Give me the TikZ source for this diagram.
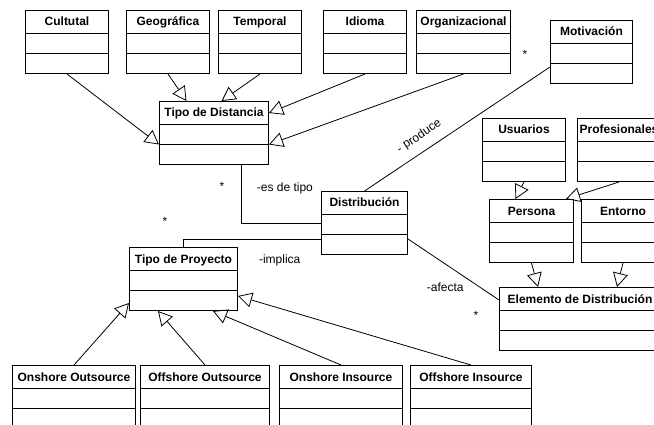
\documentclass[tikz,border=0pt]{standalone}
\usepackage{fontspec}
\setmainfont{Liberation Sans}
\usetikzlibrary{arrows.meta,shapes.multipart}

\newcommand{\titlestrut}{\rule[-7pt]{0pt}{22pt}}

\begin{document}
\begin{tikzpicture}[
  x=1pt, y=-1pt,
  font=\fontsize{12}{14}\selectfont,
  umlclass/.style={draw,line width=1pt,rectangle split,rectangle split parts=3,
    rectangle split empty part height=19pt,rectangle split empty part depth=0pt,
    inner xsep=2pt,inner ysep=0pt,anchor=north west,
    font=\fontsize{12}{14}\selectfont\bfseries},
  gen/.style={-{Triangle[open,length=14pt,width=15pt]},line width=.8pt},
  assoc/.style={line width=.8pt},
  lbl/.style={inner sep=1pt},
  mult/.style={inner sep=0pt}]
  \clip (0,0) rectangle (654,425);

% Classes
  \node[umlclass,minimum width=83pt]  (cultutal)   at (25,10)   {\titlestrut Cultutal};
  \node[umlclass,minimum width=83pt]  (geografica) at (126,10)  {\titlestrut Geográfica};
  \node[umlclass,minimum width=83pt]  (temporal)   at (218,10)  {\titlestrut Temporal};
  \node[umlclass,minimum width=83pt]  (idioma)     at (323,10)  {\titlestrut Idioma};
  \node[umlclass,minimum width=94pt]  (organiz)    at (416,10)  {\titlestrut Organizacional};
  \node[umlclass,minimum width=82pt]  (motiv)      at (550,20)  {\titlestrut Motivación};
  \node[umlclass,minimum width=109pt] (tipodist)   at (159,101) {\titlestrut Tipo de Distancia};
  \node[umlclass,minimum width=86pt]  (distrib)    at (321,191) {\titlestrut Distribución};
  \node[umlclass,minimum width=108pt] (tipoproy)   at (129,247) {\titlestrut Tipo de Proyecto};
  \node[umlclass,minimum width=83pt]  (usuarios)   at (482,118) {\titlestrut Usuarios};
  \node[umlclass,minimum width=83pt]  (profes)     at (577,118) {\titlestrut Profesionales};
  \node[umlclass,minimum width=84pt]  (persona)    at (489,199) {\titlestrut Persona};
  \node[umlclass,minimum width=83pt]  (entorno)    at (581,199) {\titlestrut Entorno};
  \node[umlclass,minimum width=161pt] (elemento)   at (499,287) {\titlestrut Elemento de Distribución};
  \node[umlclass,minimum width=123pt] (onout)      at (12,365)  {\titlestrut Onshore Outsource};
  \node[umlclass,minimum width=129pt] (offout)     at (140,365) {\titlestrut Offshore Outsource};
  \node[umlclass,minimum width=123pt] (onin)       at (279,365) {\titlestrut Onshore Insource};
  \node[umlclass,minimum width=121pt] (offin)      at (410,365) {\titlestrut Offshore Insource};

% Multiplicities
  \node[mult] (multmotiv)   at (525,54)  {*};
  \node[mult] (multdist)    at (222,186) {*};
  \node[mult] (multproy)    at (165,221) {*};
  \node[mult] (multelem)    at (476,315) {*};

% Generalizations
  \draw[gen] (cultutal.south)   -- (tipodist.two split west);
  \draw[gen] (geografica.south) -- ([xshift=-27.5pt]tipodist.north);
  \draw[gen] (temporal.south)   -- ([xshift=7.5pt]tipodist.north);
  \draw[gen] (idioma.south)     -- ([yshift=-12pt]tipodist.north east);
  \draw[gen] (organiz.south)    -- (tipodist.two split east);
  \draw[gen] (usuarios.south)   -- ([xshift=-16pt]persona.north);
  \draw[gen] (profes.south)     -- ([xshift=-8pt]persona.north east);
  \draw[gen] (persona.south)    -- ([xshift=39pt]elemento.north west);
  \draw[gen] (entorno.south)    -- ([xshift=118pt]elemento.north west);
  \draw[gen] (onout.north)      -- ([yshift=8pt]tipoproy.south west);
  \draw[gen] (offout.north)     -- ([xshift=29pt]tipoproy.south west);
  \draw[gen] (onin.north)       -- ([xshift=-25pt]tipoproy.south east);
  \draw[gen] (offin.north)      -- ([yshift=15pt]tipoproy.south east);

% Associations
  \draw[assoc] ([yshift=-15pt]motiv.west) --
                  node[lbl,sloped,above=8pt,pos=.66] {- produce}
               (distrib.north);
  \draw[assoc] ([xshift=27.5pt]tipodist.south) |-
                  node[lbl,pos=.2,right=14pt] {-es de tipo}
               (distrib.west);
  \draw[assoc] ([yshift=-16pt]distrib.west) -|
                  node[lbl,pos=.15,below=14pt] {-implica}
               (tipoproy.north);
  \draw[assoc] ([yshift=-16pt]distrib.east) --
                  node[lbl,pos=.41,below=17pt] {-afecta}
               ([yshift=-13pt]elemento.north west);
\end{tikzpicture}
\end{document}
